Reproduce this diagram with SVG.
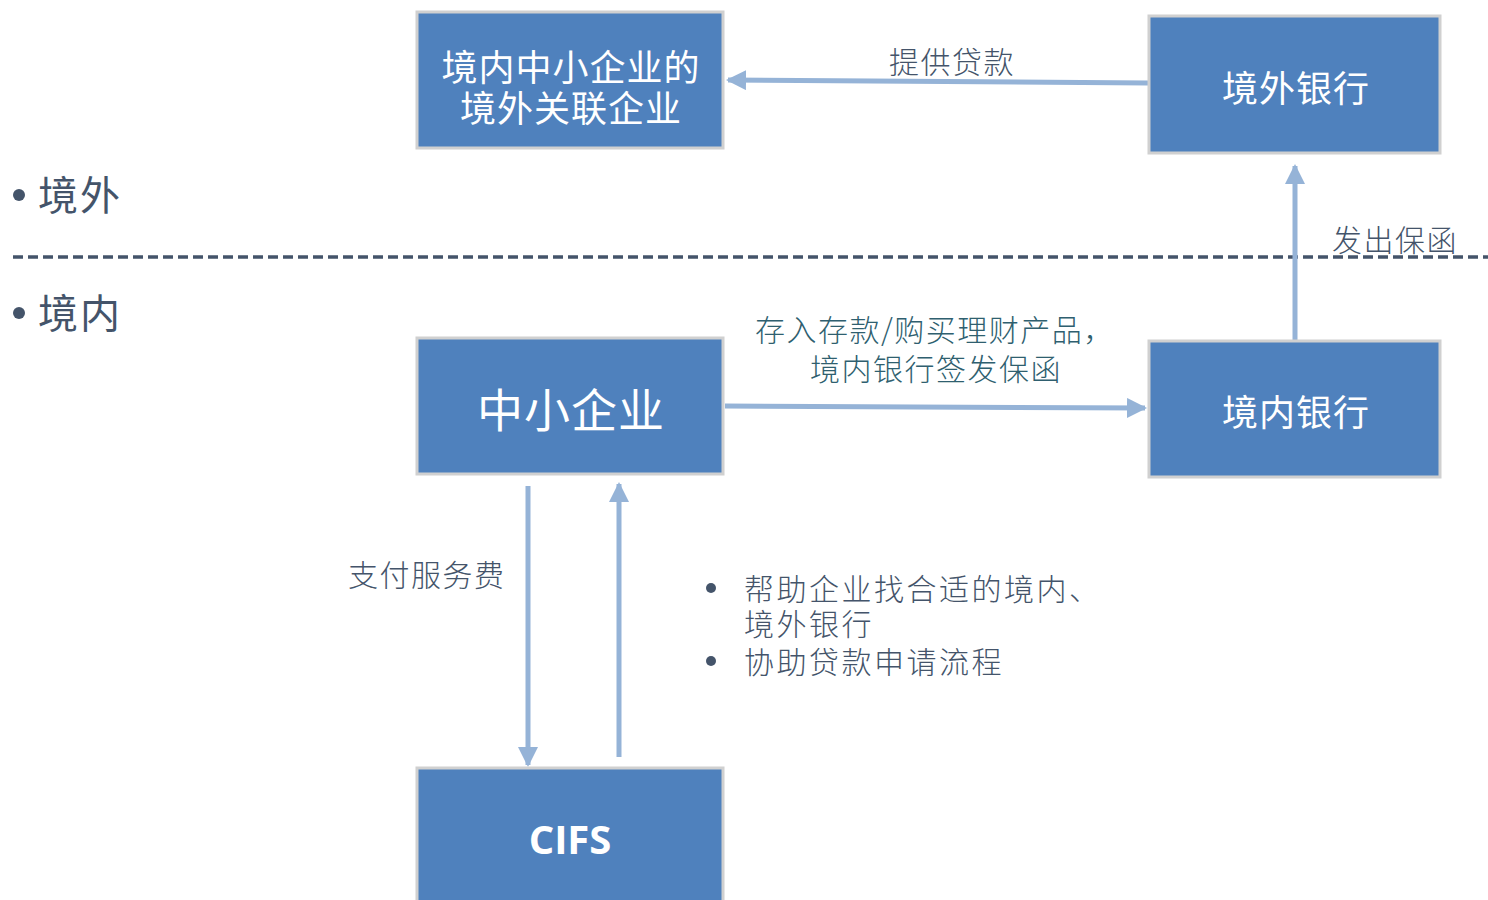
<svg xmlns="http://www.w3.org/2000/svg" width="1488" height="900" viewBox="0 0 1488 900">
<style>
.box{fill:#4F81BD;stroke:#D0D0D0;stroke-width:3}
.bt{fill:#FFFFFF;font-family:"Noto Sans CJK SC","Noto Sans",sans-serif;text-anchor:middle;dominant-baseline:central}
.lbl{fill:#44546A;font-family:"Noto Sans CJK SC","Noto Sans",sans-serif;font-size:30px;font-weight:300;letter-spacing:1.5px;dominant-baseline:central}
.teal{fill:#2F5F6F}
.conn{stroke:#95B3D7;stroke-width:5;fill:none}
.dot{fill:#44546A}
</style>
<defs>
<marker id="ah" viewBox="0 0 10 10" refX="9" refY="5" markerWidth="4" markerHeight="4" orient="auto" markerUnits="strokeWidth">
<path d="M0,0 L10,5 L0,10 z" fill="#95B3D7"/>
</marker>
</defs>
<rect width="1488" height="900" fill="#FFFFFF"/>
<g id="regions">
<line x1="13" y1="257" x2="1488" y2="257" stroke="#44546A" stroke-width="3.5" stroke-dasharray="10,5"/>
<circle class="dot" cx="19" cy="195" r="6"/>
<text x="38" y="193" class="lbl" style="font-size:40px;font-weight:400;letter-spacing:2px">境外</text>
<circle class="dot" cx="19" cy="313" r="6"/>
<text x="38" y="311" class="lbl" style="font-size:40px;font-weight:400;letter-spacing:2px">境内</text>
</g>
<g id="connectors">
<line class="conn" x1="1148" y1="83" x2="728" y2="80" marker-end="url(#ah)"/>
<line class="conn" x1="1295" y1="340" x2="1295" y2="166" marker-end="url(#ah)"/>
<line class="conn" x1="725" y1="406" x2="1145" y2="408" marker-end="url(#ah)"/>
<line class="conn" x1="528" y1="486" x2="528" y2="765" marker-end="url(#ah)"/>
<line class="conn" x1="619" y1="757" x2="619" y2="484" marker-end="url(#ah)"/>
<text class="lbl" x="889" y="60">提供贷款</text>
<text class="lbl" x="1332" y="238">发出保函</text>
<text class="lbl teal" x="755" y="328">存入存款/购买理财产品，</text>
<text class="lbl teal" x="810" y="367">境内银行签发保函</text>
<text class="lbl" x="348" y="573">支付服务费</text>
<circle class="dot" cx="711" cy="588" r="5"/>
<text class="lbl" x="744" y="587" style="letter-spacing:2.5px">帮助企业找合适的境内、</text>
<text class="lbl" x="744" y="622" style="letter-spacing:2.5px">境外银行</text>
<circle class="dot" cx="711" cy="661" r="5"/>
<text class="lbl" x="744" y="660" style="letter-spacing:2.5px">协助贷款申请流程</text>
</g>
<g id="node-affiliate">
<rect class="box" x="417" y="12" width="306" height="136"/>
<text class="bt" x="571" y="65" style="font-size:36px;letter-spacing:1px">境内中小企业的</text>
<text class="bt" x="571" y="106" style="font-size:36px;letter-spacing:1px">境外关联企业</text>
</g>
<g id="node-foreign-bank">
<rect class="box" x="1149" y="16" width="291" height="137"/>
<text class="bt" x="1296" y="86" style="font-size:36px;letter-spacing:1px">境外银行</text>
</g>
<g id="node-sme">
<rect class="box" x="417" y="338" width="306" height="136"/>
<text class="bt" x="571" y="407" style="font-size:46px;letter-spacing:1px">中小企业</text>
</g>
<g id="node-domestic-bank">
<rect class="box" x="1149" y="341" width="291" height="136"/>
<text class="bt" x="1296" y="410" style="font-size:36px;letter-spacing:1px">境内银行</text>
</g>
<g id="node-cifs">
<rect class="box" x="417" y="768" width="306" height="140"/>
<text class="bt" x="570" y="838" style="font-size:40px;font-weight:700;font-family:'Open Sans','Liberation Sans',sans-serif">CIFS</text>
</g>
</svg>
